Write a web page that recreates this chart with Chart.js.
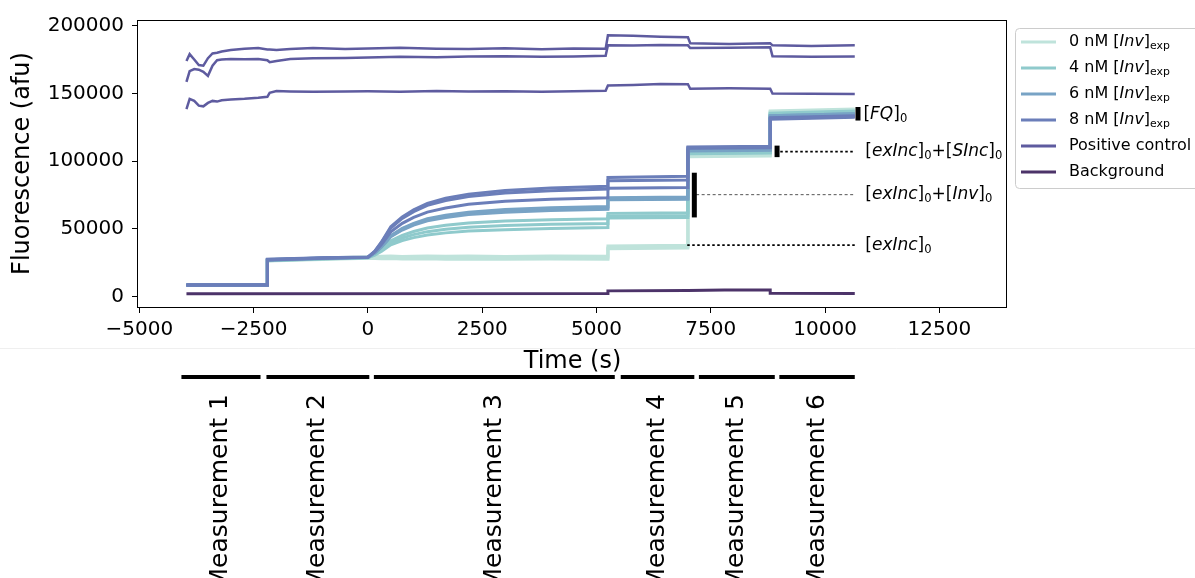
<!DOCTYPE html>
<html>
<head>
<meta charset="utf-8">
<script src="https://cdn.jsdelivr.net/npm/chart.js@4.4.1/dist/chart.umd.min.js"></script>
<style>
  html, body { margin: 0; padding: 0; background: #fff; }
</style>
</head>
<body>
<canvas id="chart" width="1195" height="578"></canvas>
<script>
// sample traces share one time base (s)
const sampleTime = [-3970, -2200, -2200, -1000, 0, 150, 300, 500, 750, 1000, 1300, 1700, 2200, 3000, 4000, 5250, 5250, 7000, 7000, 8800, 8800, 10650]

const inv0 = [
  [8600, 8700, 26800, 28000, 28800, 28900, 28700, 29000, 28800, 28600, 28900, 28700, 28800, 28500, 28700, 28600, 36000, 36800, 104000, 104500, 136500, 138000],
  [8400, 8500, 26300, 27500, 28300, 28200, 28000, 28100, 27900, 27800, 28000, 27700, 27900, 27600, 27800, 27700, 35400, 36000, 103300, 103800, 137000, 138500],
  [8800, 8900, 27300, 28600, 29500, 29600, 29800, 30000, 29700, 29900, 30100, 29800, 30000, 29700, 30000, 29900, 37500, 38000, 105000, 105500, 136000, 137500],
]
const inv4 = [
  [8500, 8600, 27000, 28200, 29000, 31600, 35300, 41300, 45200, 48100, 50700, 52700, 54400, 55800, 56800, 57500, 61500, 62000, 106500, 107000, 135500, 137000],
  [8700, 8800, 26700, 28000, 28900, 31200, 34500, 39800, 43300, 45800, 48000, 49800, 51300, 52500, 53400, 54000, 59500, 60000, 106000, 106500, 135000, 136500],
  [8300, 8400, 26500, 27800, 28700, 30700, 33600, 38300, 41400, 43600, 45600, 47100, 48400, 49500, 50300, 51000, 58000, 58500, 105500, 106000, 134500, 136000],
]
const inv6 = [
  [8600, 8700, 27200, 28400, 29100, 32400, 37300, 45100, 50400, 54100, 57500, 60100, 62400, 64300, 65600, 66500, 73000, 73500, 108500, 109000, 133500, 135000],
  [8500, 8600, 26900, 28100, 29000, 32300, 37000, 44700, 49800, 53500, 56700, 59300, 61500, 63300, 64600, 65500, 72000, 72500, 108000, 108500, 133000, 134500],
  [8700, 8800, 27400, 28600, 29200, 32200, 36800, 44300, 49200, 52800, 56000, 58500, 60600, 62400, 63600, 64500, 71500, 72000, 107500, 108000, 133500, 135000],
]
const inv8 = [
  [8600, 8700, 27100, 28300, 29200, 33700, 40600, 51600, 58900, 64200, 68900, 72600, 75700, 78400, 80200, 81500, 88000, 88800, 110500, 111000, 131500, 133000],
  [8500, 8600, 27300, 28500, 29100, 33500, 40100, 50700, 57800, 62800, 67400, 70900, 73900, 76500, 78200, 79500, 85500, 86200, 110000, 110500, 131000, 132500],
  [8800, 8900, 27600, 28800, 29300, 33000, 38700, 47900, 54100, 58500, 62400, 65500, 68200, 70400, 71900, 73000, 80000, 80500, 109500, 110000, 132000, 133500],
]

const posTime = [-3970, -3900, -3800, -3700, -3600, -3500, -3400, -3300, -3200, -3000, -2700, -2400, -2200, -2150, -2000, -1700, -1200, -500, 0, 700, 1500, 2200, 3000, 3800, 4500, 5200, 5250, 5800, 6400, 7000, 7050, 7900, 8800, 8850, 9700, 10650]
const posA = [174000, 179000, 175000, 171000, 170500, 176000, 179500, 180000, 181000, 182000, 183000, 183500, 182500, 182500, 182000, 182800, 183500, 182800, 183200, 183800, 183000, 182800, 183400, 182600, 183200, 183000, 193000, 192500, 191800, 191500, 187000, 186500, 187000, 185500, 185000, 185500]
const posB = [158500, 166500, 168000, 167500, 166000, 163000, 170500, 174500, 175000, 175500, 175200, 175500, 174500, 173000, 174000, 175500, 176000, 176200, 176500, 177000, 176800, 177200, 177500, 177000, 177300, 177800, 185500, 185300, 185800, 185500, 183500, 183800, 184000, 177500, 177000, 177300]
const posC = [138500, 146000, 144500, 141000, 140500, 143000, 144500, 144000, 145000, 145500, 146000, 146800, 147500, 150500, 151800, 151500, 151200, 151500, 151600, 151300, 151800, 151400, 151600, 151200, 151700, 151900, 155800, 156300, 157000, 156800, 153500, 153800, 153500, 150000, 149800, 149500]

const bgTime = [-3970, 5250, 5250, 7000, 7800, 8800, 8800, 10650]
const bgValues = [2100, 2300, 4300, 4600, 5000, 4900, 2500, 2300]

// reference bars and guide lines on the right (data units)
const barX = [10720, 8950, 7140]
const barLow = [130000, 103000, 58500]
const barHigh = [140000, 111500, 91500]
const guideStart = [9020, 7180, 6985]
const guideLevel = [107100, 75300, 38000]
const guideEnd = 10660

const xTicks = [-5000, -2500, 0, 2500, 5000, 7500, 10000, 12500]
const yTicks = [0, 50000, 100000, 150000, 200000]

const measNames = ["Measurement 1", "Measurement 2", "Measurement 3", "Measurement 4", "Measurement 5", "Measurement 6"]
const measStart = [-4080, -2220, 130, 5530, 7240, 9000]
const measEnd = [-2350, 30, 5400, 7140, 8900, 10650]

const groupSeries = [inv0, inv4, inv6, inv8]
const groupNames = ["0 nM", "4 nM", "6 nM", "8 nM"]
const groupColors = ["#bfe3db", "#8fcacc", "#78a3c5", "#6b7eb9"]
const posColor = "#5e5b9f"
const bgColor = "#4c3369"

const FONT = "'DejaVu Sans', 'Noto Sans', sans-serif"
Chart.defaults.font.family = FONT
Chart.defaults.color = "#000"

const datasets = []

groupSeries.forEach((lines, g) => {
  lines.forEach((vals) => {
    datasets.push({
      data: sampleTime.map((t, i) => ({ x: t, y: vals[i] })),
      borderColor: groupColors[g],
      borderWidth: 3,
      order: 40 - g * 10,
    })
  })
})

;[posA, posB, posC].forEach((vals) => {
  datasets.push({
    data: posTime.map((t, i) => ({ x: t, y: vals[i] })),
    borderColor: posColor,
    borderWidth: 2.5,
    order: 5,
  })
})

datasets.push({
  data: bgTime.map((t, i) => ({ x: t, y: bgValues[i] })),
  borderColor: bgColor,
  borderWidth: 3,
  order: 5,
})

barX.forEach((bx, i) => {
  datasets.push({
    data: [{ x: bx, y: barLow[i] }, { x: bx, y: barHigh[i] }],
    borderColor: "#000",
    borderWidth: 5,
    borderCapStyle: "butt",
    order: 0,
  })
})

guideLevel.forEach((lv, i) => {
  const thin = i === 1
  datasets.push({
    data: [{ x: guideStart[i], y: lv }, { x: guideEnd, y: lv }],
    borderColor: thin ? "#555" : "#000",
    borderWidth: thin ? 1 : 1.8,
    borderDash: thin ? [3, 2.5] : [2.5, 2.5],
    order: 1,
  })
})

// rich text pieces: [text, italic, subscript]
const annotLabels = [
  { x: 10840, y: 134300, parts: [["[", 0, 0], ["FQ", 1, 0], ["]", 0, 0], ["0", 0, 1]] },
  { x: 10880, y: 107100, parts: [["[", 0, 0], ["exInc", 1, 0], ["]", 0, 0], ["0", 0, 1], ["+[", 0, 0], ["SInc", 1, 0], ["]", 0, 0], ["0", 0, 1]] },
  { x: 10880, y: 75300, parts: [["[", 0, 0], ["exInc", 1, 0], ["]", 0, 0], ["0", 0, 1], ["+[", 0, 0], ["Inv", 1, 0], ["]", 0, 0], ["0", 0, 1]] },
  { x: 10880, y: 38000, parts: [["[", 0, 0], ["exInc", 1, 0], ["]", 0, 0], ["0", 0, 1]] },
]

function drawRich(ctx, parts, x, y, size) {
  let cx = x
  parts.forEach(([t, it, sub]) => {
    const fs = sub ? size * 0.68 : size
    ctx.font = (it ? "italic " : "") + fs + "px " + FONT
    ctx.fillText(t, cx, y + (sub ? size * 0.28 : 0))
    cx += ctx.measureText(t).width
  })
}

const decor = {
  id: "decor",
  afterDraw(chart) {
    const { ctx, chartArea: a, scales } = chart
    const xs = scales.x
    const ys = scales.y
    ctx.save()

    // frame
    ctx.strokeStyle = "#000"
    ctx.lineWidth = 1
    ctx.strokeRect(a.left - 0.5, a.top + 0.5, a.right - a.left, a.bottom - a.top)

    // right-hand labels
    ctx.fillStyle = "#000"
    ctx.textAlign = "left"
    ctx.textBaseline = "middle"
    annotLabels.forEach((l) => {
      drawRich(ctx, l.parts, xs.getPixelForValue(l.x), ys.getPixelForValue(l.y), 17)
    })

    // faint seam between figure parts
    ctx.strokeStyle = "#efefef"
    ctx.beginPath()
    ctx.moveTo(0, 348.5)
    ctx.lineTo(1195, 348.5)
    ctx.stroke()

    // measurement bars
    ctx.strokeStyle = "#000"
    ctx.lineWidth = 4
    measNames.forEach((name, i) => {
      const x0 = xs.getPixelForValue(measStart[i])
      const x1 = xs.getPixelForValue(measEnd[i])
      ctx.beginPath()
      ctx.moveTo(x0, 377)
      ctx.lineTo(x1, 377)
      ctx.stroke()
      ctx.save()
      ctx.translate((x0 + x1) / 2, 394)
      ctx.rotate(-Math.PI / 2)
      ctx.textAlign = "right"
      ctx.textBaseline = "middle"
      ctx.font = "25px " + FONT
      ctx.fillText(name, 0, 0)
      ctx.restore()
    })

    // legend
    const lx = 1015.5, ly = 28.5, lw = 200, lh = 160
    ctx.beginPath()
    ctx.roundRect(lx, ly, lw, lh, 4)
    ctx.fillStyle = "rgba(255,255,255,0.85)"
    ctx.fill()
    ctx.strokeStyle = "#cccccc"
    ctx.lineWidth = 1
    ctx.stroke()

    const entries = groupNames.map((n, i) => ({
      color: groupColors[i],
      parts: [[n + " [", 0, 0], ["Inv", 1, 0], ["]", 0, 0], ["exp", 0, 1]],
    }))
    entries.push({ color: posColor, parts: [["Positive control", 0, 0]] })
    entries.push({ color: bgColor, parts: [["Background", 0, 0]] })

    entries.forEach((e, i) => {
      const ry = 42 + i * 26
      ctx.strokeStyle = e.color
      ctx.lineWidth = 3
      ctx.beginPath()
      ctx.moveTo(1021, ry)
      ctx.lineTo(1056, ry)
      ctx.stroke()
      ctx.fillStyle = "#000"
      ctx.textAlign = "left"
      ctx.textBaseline = "middle"
      drawRich(ctx, e.parts, 1069, ry, 16)
    })

    ctx.restore()
  },
}

const tickGrid = {
  display: true,
  drawOnChartArea: false,
  drawTicks: true,
  tickLength: 6,
  tickColor: "#000",
  tickWidth: 1,
}

new Chart(document.getElementById("chart"), {
  type: "line",
  data: { datasets },
  plugins: [decor],
  options: {
    responsive: false,
    devicePixelRatio: 1,
    animation: false,
    events: [],
    elements: {
      point: { radius: 0 },
      line: { tension: 0, fill: false },
    },
    layout: {
      padding: { left: 4, right: 188, top: 19, bottom: 197.6 },
    },
    scales: {
      x: {
        type: "linear",
        min: -5030,
        max: 13980,
        afterBuildTicks: (s) => {
          s.ticks = xTicks.map((v) => ({ value: v }))
        },
        afterFit: (s) => {
          s.height = 73.4
        },
        ticks: {
          callback: (v) => (v < 0 ? "\u2212" + Math.abs(v) : String(v)),
          font: { size: 20 },
          color: "#000",
          padding: 5,
          maxRotation: 0,
          autoSkip: false,
        },
        grid: tickGrid,
        border: { display: false },
        title: {
          display: true,
          text: "Time (s)",
          font: { size: 24 },
          color: "#000",
          padding: { top: 4, bottom: 4 },
        },
      },
      y: {
        type: "linear",
        min: -7600,
        max: 204200,
        afterBuildTicks: (s) => {
          s.ticks = yTicks.map((v) => ({ value: v }))
        },
        afterFit: (s) => {
          s.width = 134
        },
        ticks: {
          callback: (v) => String(v),
          font: { size: 20 },
          color: "#000",
          padding: 8,
        },
        grid: tickGrid,
        border: { display: false },
        title: {
          display: true,
          text: "Fluorescence (afu)",
          font: { size: 24 },
          color: "#000",
          padding: { top: 4, bottom: 4 },
        },
      },
    },
    plugins: {
      legend: { display: false },
      tooltip: { enabled: false },
    },
  },
})
</script>
</body>
</html>
